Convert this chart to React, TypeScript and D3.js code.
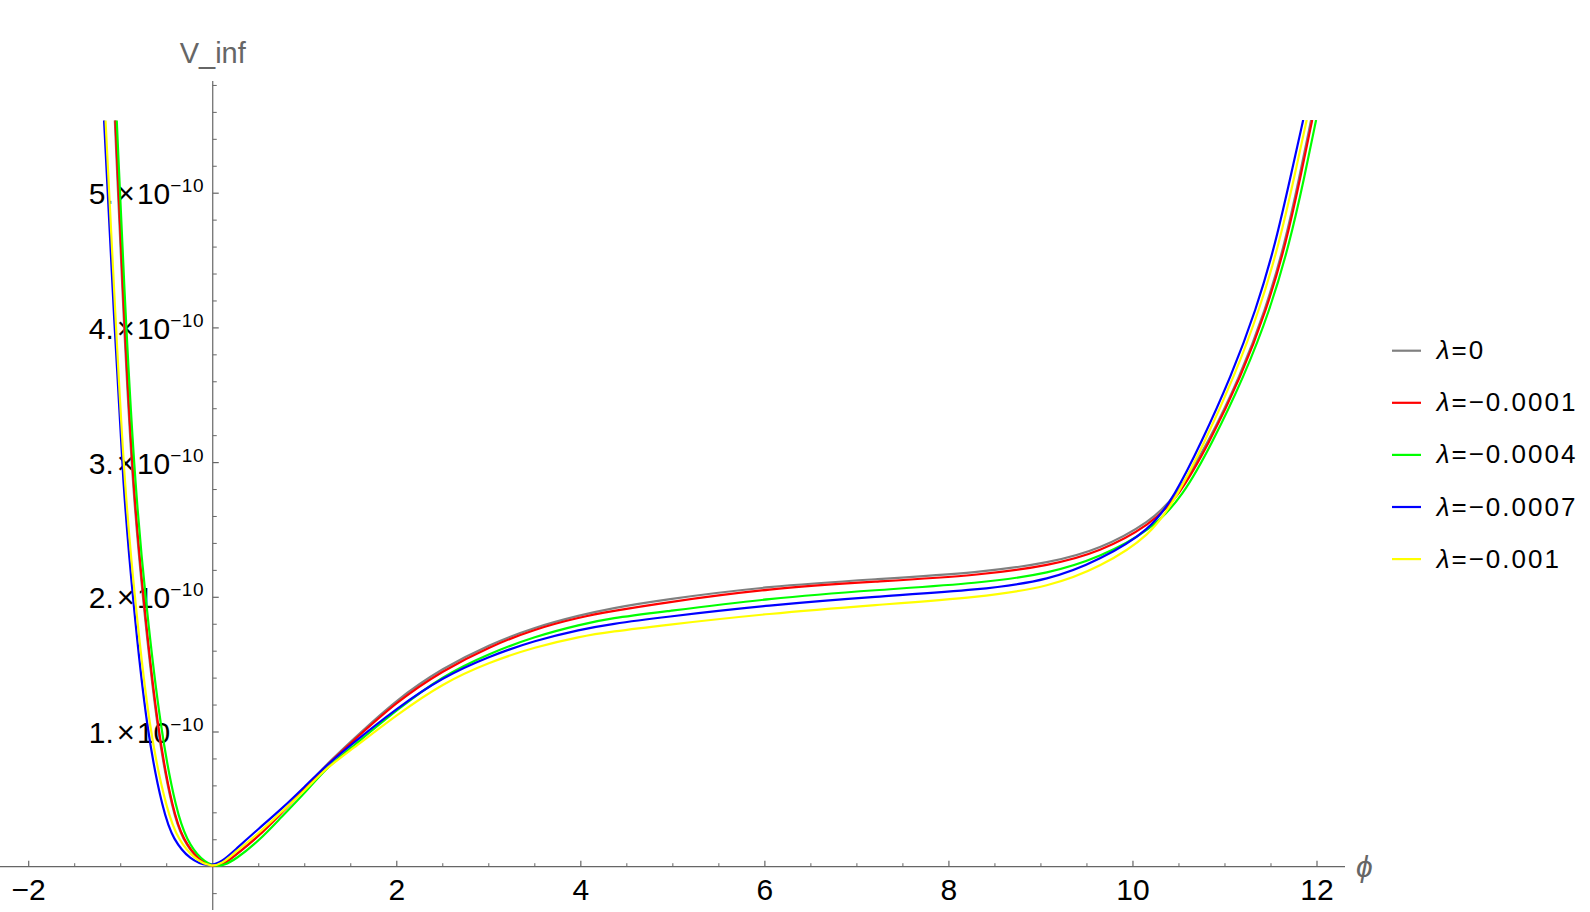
import React from 'react';
import * as d3 from 'd3';

// phi values and V_inf (in units of 1e-10)
const lambdaLabels = ['0', '\u22120.0001', '\u22120.0004', '\u22120.0007', '\u22120.001'];
const lineColors = ['#808080', '#ff0000', '#00ff00', '#0000ff', '#ffff00'];

const gray: [number, number][] = [
  [-1.064, 5.54], [-0.967, 4.03], [-0.869, 2.8], [-0.76, 1.99], [-0.604, 1.0], [-0.434, 0.4],
  [-0.326, 0.2], [-0.162, 0.05], [-0.005, 0], [0.1, 0.005], [0.25, 0.088], [0.5, 0.228],
  [0.75, 0.404], [1.0, 0.58], [1.22, 0.75], [1.5, 0.929], [2.0, 1.244], [2.5, 1.475],
  [3.0, 1.648], [3.5, 1.779], [4.0, 1.869], [4.33, 1.918], [4.86, 1.98], [6.06, 2.084],
  [7.2, 2.134], [8.34, 2.183], [9.1, 2.257], [9.64, 2.356], [10.19, 2.561], [10.47, 2.75],
  [10.815, 3.143], [11.163, 3.638], [11.44, 4.133], [11.652, 4.628], [11.81, 5.123], [11.936, 5.544],
];

const red: [number, number][] = [
  [-1.058, 5.54], [-0.961, 4.03], [-0.863, 2.8], [-0.754, 1.99], [-0.598, 1.0], [-0.428, 0.4],
  [-0.32, 0.2], [-0.156, 0.05], [0.0, 0], [0.1, 0.005], [0.25, 0.087], [0.5, 0.225],
  [0.75, 0.401], [1.0, 0.575], [1.22, 0.743], [1.5, 0.917], [2.0, 1.227], [2.5, 1.457],
  [3.0, 1.631], [3.5, 1.765], [4.0, 1.854], [4.33, 1.896], [4.86, 1.956], [6.06, 2.067],
  [7.2, 2.116], [8.34, 2.163], [9.1, 2.237], [9.64, 2.336], [10.19, 2.537], [10.5, 2.75],
  [10.827, 3.143], [11.175, 3.638], [11.452, 4.133], [11.664, 4.628], [11.822, 5.123], [11.948, 5.544],
];

const green: [number, number][] = [
  [-1.043, 5.54], [-0.945, 4.03], [-0.841, 2.8], [-0.732, 1.99], [-0.566, 1.0], [-0.391, 0.4],
  [-0.283, 0.2], [-0.13, 0.05], [0.03, 0], [0.12, 0.01], [0.25, 0.055], [0.5, 0.19],
  [0.75, 0.372], [1.0, 0.545], [1.22, 0.725], [1.5, 0.88], [2.0, 1.165], [2.5, 1.418],
  [3.0, 1.581], [3.5, 1.71], [4.0, 1.799], [4.33, 1.845], [4.86, 1.89], [6.06, 1.993],
  [7.2, 2.054], [8.34, 2.104], [9.1, 2.178], [9.64, 2.297], [10.19, 2.494], [10.544, 2.75],
  [10.86, 3.143], [11.207, 3.638], [11.49, 4.133], [11.702, 4.628], [11.865, 5.123], [11.99, 5.544],
];

const blue: [number, number][] = [
  [-1.181, 5.54], [-1.069, 4.03], [-0.972, 2.8], [-0.869, 1.99], [-0.717, 1.0], [-0.537, 0.4],
  [-0.428, 0.2], [-0.247, 0.05], [-0.05, 0], [0.1, 0.035], [0.25, 0.13], [0.5, 0.283],
  [0.75, 0.43], [1.0, 0.595], [1.22, 0.743], [1.5, 0.905], [2.0, 1.177], [2.5, 1.408],
  [3.0, 1.561], [3.5, 1.68], [4.0, 1.762], [4.33, 1.802], [4.86, 1.85], [6.06, 1.943],
  [7.2, 2.005], [8.34, 2.054], [9.1, 2.128], [9.64, 2.277], [10.19, 2.5], [10.45, 2.75],
  [10.74, 3.143], [11.066, 3.638], [11.338, 4.133], [11.55, 4.628], [11.713, 5.123], [11.85, 5.544],
];

const yellow: [number, number][] = [
  [-1.165, 5.54], [-1.054, 4.03], [-0.956, 2.8], [-0.847, 1.99], [-0.689, 1.0], [-0.493, 0.4],
  [-0.374, 0.2], [-0.192, 0.05], [-0.02, 0], [0.1, 0.02], [0.25, 0.111], [0.5, 0.248],
  [0.75, 0.409], [1.0, 0.565], [1.22, 0.725], [1.5, 0.865], [2.0, 1.128], [2.5, 1.363],
  [3.0, 1.517], [3.5, 1.631], [4.0, 1.71], [4.33, 1.745], [4.86, 1.79], [6.06, 1.881],
  [7.2, 1.943], [8.34, 2.0], [9.1, 2.079], [9.64, 2.223], [10.19, 2.455], [10.48, 2.75],
  [10.775, 3.143], [11.1, 3.638], [11.375, 4.133], [11.59, 4.628], [11.755, 5.123], [11.888, 5.544],
];

const allSeries = [gray, red, green, blue, yellow];

const xTickValues = [-2, 2, 4, 6, 8, 10, 12];
const yTickValues = [1, 2, 3, 4, 5];

const AXIS = '#666666';
const FONT = '"Liberation Sans", Arial, sans-serif';

export default function App() {
  const W = 1590;
  const H = 912;

  const x = d3.scaleLinear().domain([-2, 12]).range([28.7, 1317]);
  const y = d3.scaleLinear().domain([0, 5]).range([866.7, 193.2]);

  // B-spline smooths out small reading errors between the sampled points
  const line = d3
    .line<[number, number]>()
    .x((d) => x(d[0]))
    .y((d) => y(d[1]))
    .curve(d3.curveBasis);

  const x0 = x(0);
  const y0 = y(0);

  const xMinor = d3.range(-2, 12.01, 0.5).filter((v) => Math.abs(v % 2) > 0.01);
  const yMinor = d3
    .range(-1, 30)
    .map((i) => i * 0.2)
    .filter((v) => Math.abs(v - Math.round(v)) > 0.01);

  const clipTop = y(5.544);

  return (
    <svg
      width={W}
      height={H}
      style={{ position: 'absolute', left: 0, top: 0, background: '#fff' }}
      fontFamily={FONT}
    >
      <defs>
        <clipPath id="plotClip">
          <rect x={0} y={clipTop} width={1350} height={H - clipTop} />
        </clipPath>
      </defs>

      {/* x axis */}
      <line x1={0} x2={1345} y1={y0} y2={y0} stroke={AXIS} strokeWidth={1.2} />
      {xTickValues.map((v) => (
        <g key={'xt' + v}>
          <line x1={x(v)} x2={x(v)} y1={y0} y2={y0 - 6} stroke={AXIS} strokeWidth={1.2} />
          <text x={x(v)} y={900} textAnchor="middle" fontSize={30} fill="#000">
            {v < 0 ? '\u2212' + Math.abs(v) : v}
          </text>
        </g>
      ))}
      {xMinor.map((v) => (
        <line key={'xm' + v} x1={x(v)} x2={x(v)} y1={y0} y2={y0 - 3.5} stroke={AXIS} strokeWidth={1} />
      ))}
      <text x={1356} y={877} fontSize={30} fontStyle="italic" fill={AXIS}>
        {'\u03D5'}
      </text>

      {/* y axis */}
      <line x1={x0} x2={x0} y1={81} y2={910} stroke={AXIS} strokeWidth={1.2} />
      {yTickValues.map((v) => (
        <g key={'yt' + v}>
          <line x1={x0} x2={x0 + 6} y1={y(v)} y2={y(v)} stroke={AXIS} strokeWidth={1.2} />
          <text x={204} y={y(v) + 11} textAnchor="end" fontSize={30} fill="#000">
            {v + '.'}
            <tspan dx={3} fontSize={31}>{'\u00D7'}</tspan>
            <tspan dx={2}>10</tspan>
            <tspan dy={-12} fontSize={19} letterSpacing={0.5}>
              {'\u221210'}
            </tspan>
          </text>
        </g>
      ))}
      {yMinor.map((v) => (
        <line key={'ym' + v} x1={x0} x2={x0 + 4} y1={y(v)} y2={y(v)} stroke={AXIS} strokeWidth={1} />
      ))}
      <text x={x0} y={63} textAnchor="middle" fontSize={29} fill={AXIS}>
        V_inf
      </text>

      {/* curves */}
      <g clipPath="url(#plotClip)">
        {allSeries.map((s, i) => (
          <path key={'c' + i} d={line(s) || ''} fill="none" stroke={lineColors[i]} strokeWidth={2.2} />
        ))}
      </g>

      {/* legend */}
      {lambdaLabels.map((lab, i) => {
        const ly = 350.7 + i * 52.1;
        return (
          <g key={'lg' + i}>
            <line x1={1392} x2={1421} y1={ly} y2={ly} stroke={lineColors[i]} strokeWidth={2.2} />
            <text x={1436.7} y={ly + 8.5} fontSize={26} fill="#000" letterSpacing={2}>
              <tspan fontStyle="italic">{'\u03BB'}</tspan>
              {'=' + lab}
            </text>
          </g>
        );
      })}
    </svg>
  );
}
